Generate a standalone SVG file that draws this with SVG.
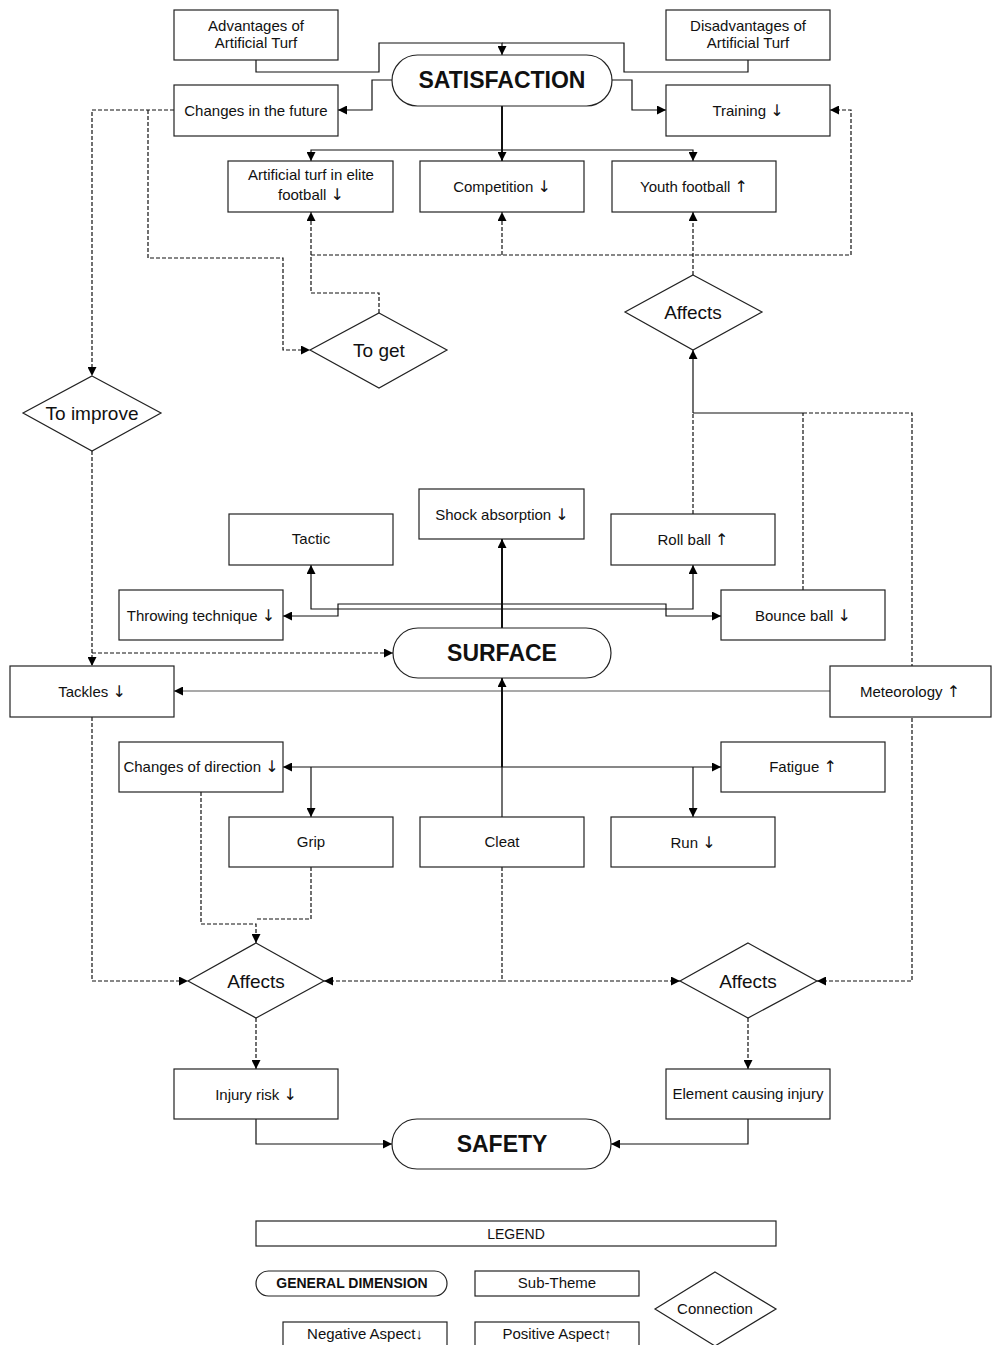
<svg xmlns="http://www.w3.org/2000/svg" width="992" height="1345" viewBox="0 0 992 1345">
<defs>
<marker id="ah" viewBox="0 0 10 10" refX="10" refY="5" markerWidth="10" markerHeight="9" markerUnits="userSpaceOnUse" orient="auto">
<path d="M0,0 L10,5 L0,10 z" fill="#000"/>
</marker>
</defs>
<style>
.box{fill:#fff;stroke:#222;stroke-width:1.2}
.t{font-family:"Liberation Sans",Arial,sans-serif;font-size:15px;text-anchor:middle;fill:#111}
.ar{font-family:"DejaVu Sans",sans-serif;font-size:16px}
.big{font-weight:bold;font-size:23px}
.dt{font-size:19px}
.c{fill:none;stroke:#111;stroke-width:1.2}
.thick{stroke-width:2}
.g{stroke:#555}
.d{stroke-dasharray:4 2}
.a{marker-end:url(#ah)}
</style>
<rect width="992" height="1345" fill="#fff"/>
<g id="connectors">
<path class="c a" d="M256,60 V72 H379 V43 H502 V55"/>
<path class="c" d="M748,60 V72 H624 V43 H502"/>
<path class="c a" d="M392,80 H372 V110 H338"/>
<path class="c a" d="M612,80 H632 V110 H666"/>
<path class="c thick a" d="M502,105 V161"/>
<path class="c a" d="M502,150 H311 V161"/>
<path class="c a" d="M502,150 H693 V161"/>
<path class="c d a" d="M174,110 H92 V376"/>
<path class="c d a" d="M148,110 V258 H283 V350 H310"/>
<path class="c d a" d="M379,313 V293 H311 V212"/>
<path class="c d a" d="M693,275 V212"/>
<path class="c d a" d="M311,255 H851 V110 H830"/>
<path class="c d a" d="M502,255 V212"/>
<path class="c d" d="M693,514 V413"/>
<path class="c a" d="M693,413 V350"/>
<path class="c d" d="M803,590 V413"/>
<path class="c" d="M803,413 H693"/>
<path class="c d a" d="M803,413 H912 V981 H817"/>
<path class="c thick a" d="M502,628 V539"/>
<path class="c a" d="M502,604 H338 V616 H283"/>
<path class="c a" d="M502,604 H666 V616 H721"/>
<path class="c a" d="M502,609 H311 V565"/>
<path class="c a" d="M502,609 H693 V565"/>
<path class="c d a" d="M92,451 V666"/>
<path class="c d a" d="M92,653 H393"/>
<path class="c g a" d="M830,691 H174"/>
<path class="c thick a" d="M502,767 V678"/>
<path class="c" d="M502,817 V767"/>
<path class="c a" d="M502,767 H283"/>
<path class="c a" d="M502,767 H721"/>
<path class="c a" d="M311,767 V817"/>
<path class="c a" d="M693,767 V817"/>
<path class="c d a" d="M201,792 V924 H256 V943"/>
<path class="c d" d="M311,867 V919 H256"/>
<path class="c d a" d="M92,717 V981 H188"/>
<path class="c d a" d="M502,867 V981 H324"/>
<path class="c d a" d="M502,981 H680"/>
<path class="c d a" d="M256,1018 V1069"/>
<path class="c d a" d="M748,1018 V1069"/>
<path class="c a" d="M256,1119 V1144 H392"/>
<path class="c a" d="M748,1119 V1144 H611"/>
</g>
<g id="adv"><rect class="box" x="174" y="10" width="164" height="50"/><text class="t" x="256" y="31">Advantages of</text><text class="t" x="256" y="48">Artificial Turf</text></g>
<g id="disadv"><rect class="box" x="666" y="10" width="164" height="50"/><text class="t" x="748" y="31">Disadvantages of</text><text class="t" x="748" y="48">Artificial Turf</text></g>
<g id="satisfaction"><rect class="box" x="392" y="55" width="220" height="51" rx="25.5"/><text class="t big" x="502" y="88">SATISFACTION</text></g>
<g id="changes-future"><rect class="box" x="174" y="85" width="164" height="51"/><text class="t" x="256" y="116">Changes in the future</text></g>
<g id="training"><rect class="box" x="666" y="85" width="164" height="51"/><text class="t" x="748" y="116">Training <tspan class="ar">↓</tspan></text></g>
<g id="elite"><rect class="box" x="228" y="161" width="165" height="51"/><text class="t" x="311" y="180">Artificial turf in elite</text><text class="t" x="311" y="200">football <tspan class="ar">↓</tspan></text></g>
<g id="competition"><rect class="box" x="420" y="161" width="164" height="51"/><text class="t" x="502" y="192">Competition <tspan class="ar">↓</tspan></text></g>
<g id="youth"><rect class="box" x="612" y="161" width="164" height="51"/><text class="t" x="694" y="192">Youth football <tspan class="ar">↑</tspan></text></g>
<g id="to-get"><polygon class="box" points="379,313 447,350 379,388 310,350"/><text class="t dt" x="379" y="357">To get</text></g>
<g id="affects-top"><polygon class="box" points="693,275 762,312 693,350 625,312"/><text class="t dt" x="693" y="319">Affects</text></g>
<g id="to-improve"><polygon class="box" points="92,376 161,413 92,451 23,413"/><text class="t dt" x="92" y="420">To improve</text></g>
<g id="shock"><rect class="box" x="419" y="489" width="165" height="50"/><text class="t" x="502" y="520">Shock absorption <tspan class="ar">↓</tspan></text></g>
<g id="tactic"><rect class="box" x="229" y="514" width="164" height="51"/><text class="t" x="311" y="544">Tactic</text></g>
<g id="roll"><rect class="box" x="611" y="514" width="164" height="51"/><text class="t" x="693" y="545">Roll ball <tspan class="ar">↑</tspan></text></g>
<g id="throwing"><rect class="box" x="119" y="590" width="164" height="50"/><text class="t" x="201" y="621">Throwing technique <tspan class="ar">↓</tspan></text></g>
<g id="bounce"><rect class="box" x="721" y="590" width="164" height="50"/><text class="t" x="803" y="621">Bounce ball <tspan class="ar">↓</tspan></text></g>
<g id="surface"><rect class="box" x="393" y="628" width="218" height="50" rx="25"/><text class="t big" x="502" y="661">SURFACE</text></g>
<g id="tackles"><rect class="box" x="10" y="666" width="164" height="51"/><text class="t" x="92" y="697">Tackles <tspan class="ar">↓</tspan></text></g>
<g id="meteorology"><rect class="box" x="830" y="666" width="161" height="51"/><text class="t" x="910" y="697">Meteorology <tspan class="ar">↑</tspan></text></g>
<g id="changes-direction"><rect class="box" x="119" y="742" width="164" height="50"/><text class="t" x="201" y="772">Changes of direction <tspan class="ar">↓</tspan></text></g>
<g id="fatigue"><rect class="box" x="721" y="742" width="164" height="50"/><text class="t" x="803" y="772">Fatigue <tspan class="ar">↑</tspan></text></g>
<g id="grip"><rect class="box" x="229" y="817" width="164" height="50"/><text class="t" x="311" y="847">Grip</text></g>
<g id="cleat"><rect class="box" x="420" y="817" width="164" height="50"/><text class="t" x="502" y="847">Cleat</text></g>
<g id="run"><rect class="box" x="611" y="817" width="164" height="50"/><text class="t" x="693" y="848">Run <tspan class="ar">↓</tspan></text></g>
<g id="affects-left"><polygon class="box" points="256,943 324,981 256,1018 188,981"/><text class="t dt" x="256" y="988">Affects</text></g>
<g id="affects-right"><polygon class="box" points="748,943 817,981 748,1018 680,981"/><text class="t dt" x="748" y="988">Affects</text></g>
<g id="injury-risk"><rect class="box" x="174" y="1069" width="164" height="50"/><text class="t" x="256" y="1100">Injury risk <tspan class="ar">↓</tspan></text></g>
<g id="element"><rect class="box" x="666" y="1069" width="164" height="50"/><text class="t" x="748" y="1099">Element causing injury</text></g>
<g id="safety"><rect class="box" x="392" y="1119" width="219" height="50" rx="25"/><text class="t big" x="502" y="1152">SAFETY</text></g>
<g id="legend">
<g id="legend-title"><rect class="box" x="256" y="1221" width="520" height="25"/><text class="t" x="516" y="1239" style="font-size:14px">LEGEND</text></g>
<g id="legend-dimension"><rect class="box" x="256" y="1271" width="191" height="25" rx="12.5"/><text class="t" x="352" y="1288" style="font-weight:bold;font-size:14px">GENERAL DIMENSION</text></g>
<g id="legend-subtheme"><rect class="box" x="475" y="1271" width="164" height="25"/><text class="t" x="557" y="1288">Sub-Theme</text></g>
<g id="legend-connection"><polygon class="box" points="715,1272 776,1309 715,1346 655,1309"/><text class="t" x="715" y="1314">Connection</text></g>
<g id="legend-negative"><rect class="box" x="283" y="1322" width="164" height="30"/><text class="t" x="365" y="1339">Negative Aspect↓</text></g>
<g id="legend-positive"><rect class="box" x="475" y="1322" width="164" height="30"/><text class="t" x="557" y="1339">Positive Aspect↑</text></g>
</g>
</svg>
